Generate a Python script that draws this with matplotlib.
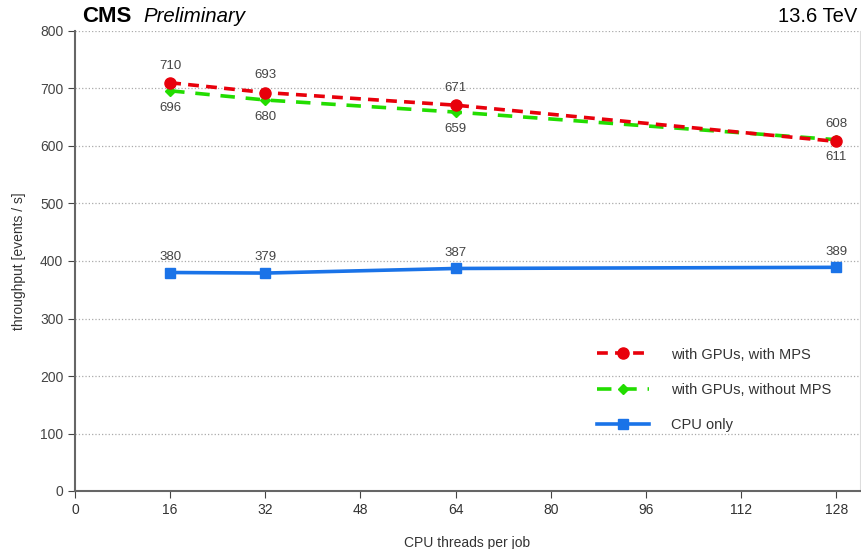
import matplotlib.pyplot as plt
import numpy as np

plt.rcParams['font.family'] = ['Liberation Sans', 'DejaVu Sans']

# data
threads = [16, 32, 64, 128]
with_mps = [710, 693, 671, 608]
without_mps = [696, 680, 659, 611]
cpu_only = [380, 379, 387, 389]

fig = plt.figure(figsize=(8.61, 5.49), dpi=100)
ax = fig.add_axes([75/861, 58/549, 785/861, 460/549])

red = '#e8000b'
green = '#22dd00'
blue = '#1a73e8'

ax.plot(threads, with_mps, color=red, linestyle=(0, (3, 2)), linewidth=2.6,
        marker='o', markersize=8, label='with GPUs, with MPS', zorder=4)
ax.plot(threads, without_mps, color=green, linestyle=(0, (4, 3)), linewidth=2.6,
        marker='D', markersize=5, label='with GPUs, without MPS', zorder=3)
ax.plot(threads, cpu_only, color=blue, linestyle='-', linewidth=2.6,
        marker='s', markersize=7, label='CPU only', zorder=3)

# value labels
for x, v in zip(threads, with_mps):
    ax.annotate(str(v), (x, v), xytext=(0, 8), textcoords='offset points',
                ha='center', va='bottom', fontsize=9.5, color='#444444')
for x, v in zip(threads, without_mps):
    ax.annotate(str(v), (x, v), xytext=(0, -8), textcoords='offset points',
                ha='center', va='top', fontsize=9.5, color='#444444')
for x, v in zip(threads, cpu_only):
    ax.annotate(str(v), (x, v), xytext=(0, 7), textcoords='offset points',
                ha='center', va='bottom', fontsize=9.5, color='#444444')

ax.set_xlim(0, 132)
ax.set_ylim(0, 800)
ax.set_xticks(np.arange(0, 129, 16))
ax.set_yticks(np.arange(0, 801, 100))
ax.yaxis.grid(True, linestyle=':', color='#aaaaaa', linewidth=0.9)
ax.set_axisbelow(True)

ax.spines['top'].set_visible(False)
ax.spines['right'].set_color('#dddddd')
ax.spines['left'].set_color('#666666')
ax.spines['bottom'].set_color('#666666')
ax.spines['left'].set_linewidth(1.5)
ax.spines['bottom'].set_linewidth(1.5)
ax.tick_params(axis='both', labelsize=10, colors='#444444', length=5)
ax.tick_params(axis='x', labelcolor='#333333')

ax.set_xlabel('CPU threads per job', fontsize=10, color='#333333', labelpad=14)
ax.set_ylabel('throughput [events / s]', fontsize=10, color='#333333', labelpad=10)

fig.text(82/861, 1 - 17/549, 'CMS', fontsize=16, fontweight='bold', va='center', ha='left')
fig.text(143/861, 1 - 17/549, 'Preliminary', fontsize=14.7, style='italic', va='center', ha='left')
fig.text(857/861, 1 - 16/549, '13.6 TeV', fontsize=14.5, va='center', ha='right')

leg = ax.legend(loc='lower right', bbox_to_anchor=(0.98, 0.1), frameon=False,
                fontsize=10.5, handlelength=3.6, labelspacing=1.45, handletextpad=1.5,
                labelcolor='#333333')

fig.savefig('out.png', dpi=100)
